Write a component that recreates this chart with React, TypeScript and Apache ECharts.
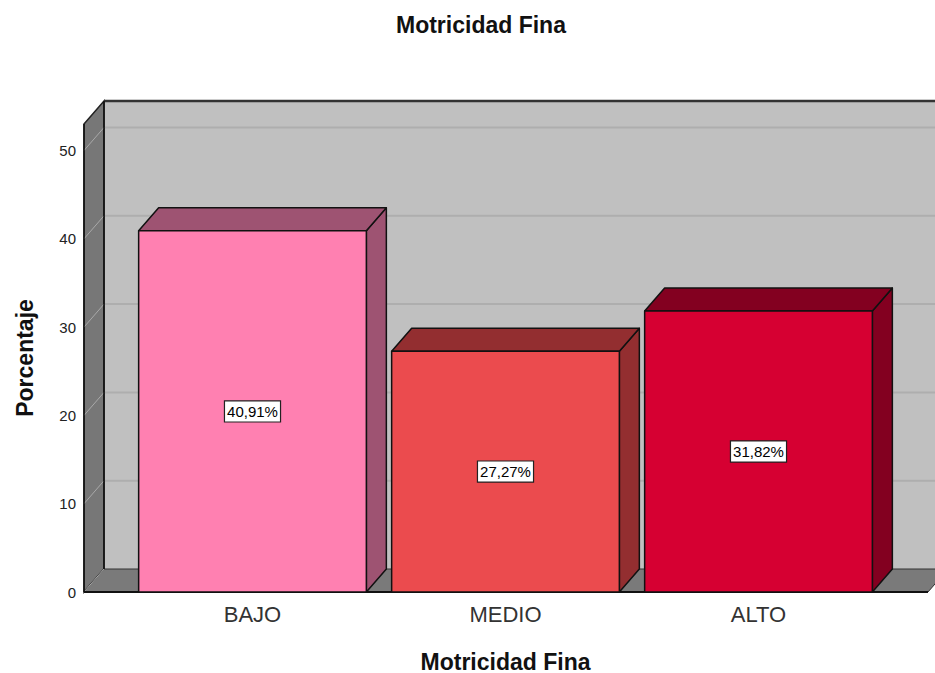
import React, { useEffect, useRef } from "react";
import * as echarts from "echarts";

const categories = ["BAJO", "MEDIO", "ALTO"];
const percentages = [40.91, 27.27, 31.82];
const frontColors = ["#FF80B1", "#EB4B4E", "#D60032"];
const sideColors = ["#9E5372", "#932E30", "#830020"];
const yTicks = [0, 10, 20, 30, 40, 50];
const yMax = 53;

const FONT = "'Liberation Sans', Arial, sans-serif";
const DX = 20;
const DY = -23;
const LEFT_EXT = 42;
const RIGHT_EXT = 43;

export default function App() {
  const ref = useRef<HTMLDivElement>(null);
  useEffect(() => {
    if (!ref.current) return;
    const chart = echarts.init(ref.current, null, { renderer: "svg" });

    const wallsRender = (params: any, api: any) => {
      const cs = params.coordSys;
      const fl = cs.x - LEFT_EXT;
      const fr = cs.x + cs.width + RIGHT_EXT;
      const top = cs.y;
      const bottom = cs.y + cs.height;
      const children: any[] = [];
      children.push({
        type: "rect",
        shape: { x: fl + DX, y: top + DY, width: fr - fl + 40, height: bottom - top },
        style: { fill: "#C0C0C0" },
      });
      yTicks.forEach((t) => {
        if (t === 0) return;
        const y = api.coord([0, t])[1];
        children.push({
          type: "line",
          shape: { x1: fl + DX, y1: y + DY, x2: fr + DX + 40, y2: y + DY },
          style: { stroke: "#AEAEAE", lineWidth: 2 },
        });
      });
      children.push({
        type: "polygon",
        shape: { points: [[fl, top], [fl + DX, top + DY], [fl + DX, bottom + DY], [fl, bottom]] },
        style: { fill: "#777777", stroke: "#222", lineWidth: 1.5 },
      });
      yTicks.forEach((t) => {
        if (t === 0) return;
        const y = api.coord([0, t])[1];
        children.push({
          type: "line",
          shape: { x1: fl, y1: y, x2: fl + DX, y2: y + DY },
          style: { stroke: "#A9A9A9", lineWidth: 1 },
        });
      });
      children.push({
        type: "polygon",
        shape: { points: [[fl, bottom], [fl + DX, bottom + DY], [fr + DX, bottom + DY], [fr, bottom]] },
        style: { fill: "#7A7A7A", stroke: "#333", lineWidth: 1 },
      });
      children.push({
        type: "line",
        shape: { x1: fl, y1: bottom, x2: fl + DX, y2: bottom + DY },
        style: { stroke: "#A9A9A9", lineWidth: 1 },
      });
      children.push({
        type: "line",
        shape: { x1: fl + DX, y1: top + DY, x2: fr + DX + 40, y2: top + DY },
        style: { stroke: "#333", lineWidth: 2.5 },
      });
      children.push({
        type: "line",
        shape: { x1: fl + DX, y1: top + DY, x2: fl + DX, y2: bottom + DY },
        style: { stroke: "#111", lineWidth: 1.5 },
      });
      children.push({
        type: "line",
        shape: { x1: fl, y1: top, x2: fl, y2: bottom },
        style: { stroke: "#111", lineWidth: 1.5 },
      });
      children.push({
        type: "line",
        shape: { x1: fl, y1: bottom, x2: fr, y2: bottom },
        style: { stroke: "#111", lineWidth: 2 },
      });
      return { type: "group", children };
    };

    const barsRender = (params: any, api: any) => {
      const idx = api.value(0);
      const val = api.value(1);
      const topPt = api.coord([idx, val]);
      const botPt = api.coord([idx, 0]);
      const band = api.size([1, 0])[0];
      const w = band * 0.9;
      const x0 = topPt[0] - w / 2;
      const x1 = topPt[0] + w / 2;
      const yT = topPt[1];
      const yB = botPt[1];
      const i = params.dataIndex;
      const stroke = { stroke: "#111", lineWidth: 1.5, lineJoin: "round" };
      const label = val.toFixed(2).replace(".", ",") + "%";
      return {
        type: "group",
        children: [
          {
            type: "polygon",
            shape: { points: [[x1, yT], [x1 + DX, yT + DY], [x1 + DX, yB + DY], [x1, yB]] },
            style: { fill: sideColors[i], ...stroke },
          },
          {
            type: "polygon",
            shape: { points: [[x0, yT], [x0 + DX, yT + DY], [x1 + DX, yT + DY], [x1, yT]] },
            style: { fill: sideColors[i], ...stroke },
          },
          {
            type: "rect",
            shape: { x: x0, y: yT, width: w, height: yB - yT },
            style: { fill: frontColors[i], ...stroke },
          },
          {
            type: "text",
            x: (x0 + x1) / 2,
            y: (yT + yB) / 2,
            style: {
              text: label,
              fill: "#000",
              font: `15px ${FONT}`,
              align: "center",
              verticalAlign: "middle",
              backgroundColor: "#fff",
              borderColor: "#222",
              borderWidth: 1.2,
              padding: [3, 2, 2, 2],
            },
          },
        ],
      };
    };

    chart.setOption({
      animation: false,
      title: {
        text: "Motricidad Fina",
        left: 391,
        top: 8,
        textStyle: { fontFamily: FONT, fontSize: 23, fontWeight: "bold", color: "#111" },
      },
      grid: { left: 126, width: 759, top: 124, height: 468, outerBoundsMode: "none" },
      xAxis: {
        type: "category",
        data: categories,
        axisLine: { show: false },
        axisTick: { show: false },
        axisLabel: { fontFamily: FONT, fontSize: 22, color: "#333", margin: 11 },
        name: "Motricidad Fina",
        nameLocation: "middle",
        nameGap: 58,
        nameTextStyle: { fontFamily: FONT, fontSize: 23, fontWeight: "bold", color: "#111" },
      },
      yAxis: {
        type: "value",
        min: 0,
        max: yMax,
        interval: 10,
        axisLine: { show: false },
        axisTick: { show: false },
        splitLine: { show: false },
        axisLabel: { fontFamily: FONT, fontSize: 15, color: "#222", margin: 50, showMaxLabel: false },
        name: "Porcentaje",
        nameLocation: "middle",
        nameGap: 90,
        nameTextStyle: { fontFamily: FONT, fontSize: 23, fontWeight: "bold", color: "#111" },
      },
      series: [
        {
          type: "custom",
          z: 1,
          renderItem: wallsRender,
          data: [[0, 0]],
          silent: true,
        },
        {
          type: "custom",
          z: 2,
          renderItem: barsRender,
          data: percentages.map((v, i) => [i, v]),
        },
      ],
    });
    return () => chart.dispose();
  }, []);
  return (
    <div
      ref={ref}
      style={{ position: "fixed", left: 0, top: 0, width: 935, height: 673, background: "#fff" }}
    />
  );
}
